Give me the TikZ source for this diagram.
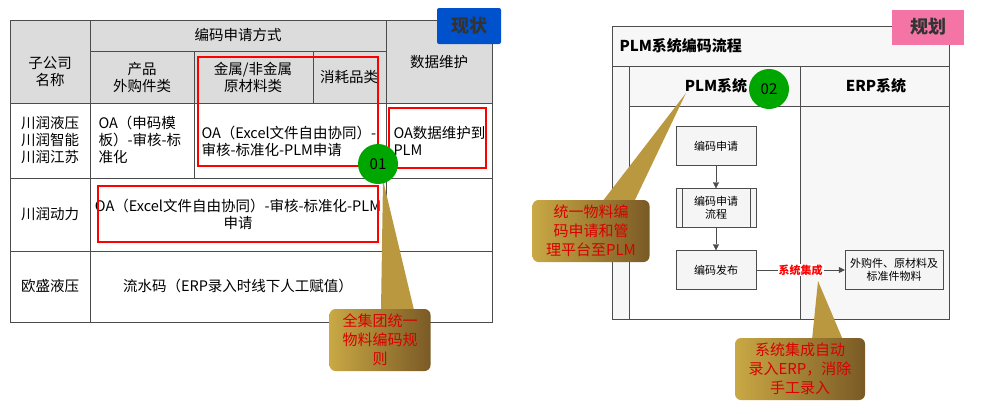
\documentclass[tikz,border=0pt]{standalone}
\usepackage{fontspec}
\newfontfamily\cjk{Noto Sans CJK SC}
\usetikzlibrary{arrows.meta}
\definecolor{hdr}{HTML}{DCDCDC}
\definecolor{goldA}{HTML}{C9A845}
\definecolor{goldB}{HTML}{7A5A25}
\tikzset{
 cell/.style={font=\cjk\fontsize{14.5}{17}\selectfont,align=center},
 redbox/.style={draw=red,line width=2pt},
 callout/.style={rounded corners=6pt,left color=goldA,right color=goldB,draw=none},
 calltext/.style={font=\cjk\fontsize{15}{19}\selectfont,text=red!85!black,align=center},
 badge/.style={circle,fill=green!65!black,minimum size=40pt,inner sep=0pt,font=\cjk\fontsize{15}{15}\selectfont},
 flowbox/.style={draw=black!70,fill=black!4,minimum width=80pt,minimum height=39pt,font=\cjk\fontsize{11}{13}\selectfont,align=center},
 arr/.style={draw=black!70,-{Triangle[length=6pt,width=6pt]}}
}
\begin{document}
\begin{tikzpicture}[x=1pt,y=-1pt]
\useasboundingbox (0,0) rectangle (1000,413);
% table
\fill[hdr] (10,20) rectangle (492,103);
\draw[black!70,line width=1pt] (10,20) rectangle (492,322);
\foreach \y in {103,178,251} \draw[black!70] (10,\y)--(492,\y);
\draw[black!70] (90,51)--(386,51);
\foreach \x in {90,386} \draw[black!70] (\x,20)--(\x,322);
\draw[black!70] (194,51)--(194,178);
\draw[black!70] (313,51)--(313,103);
\node[cell] (h1) at (50,72) {子公司\\名称};
\node[cell] (h2) at (238,35) {编码申请方式};
\node[cell] (h3) at (142,77) {产品\\外购件类};
\node[cell] (h4) at (253,77) {金属/非金属\\原材料类};
\node[cell] (h5) at (349,77) {消耗品类};
\node[cell] (h6) at (439,62) {数据维护};
\node[cell] (r1) at (50,140) {川润液压\\川润智能\\川润江苏};
\node[cell,align=left,anchor=west] (c11) at (95,140) {OA（申码模\\板）-审核-标\\准化};
\node[cell,align=left,anchor=west] (c12) at (198,141) {OA（Excel文件自由协同）-\\审核-标准化-PLM申请};
\node[cell,align=left,anchor=west] (c13) at (390,141) {OA数据维护到\\PLM};
\node[cell] (r2) at (50,214) {川润动力};
\node[cell] (c21) at (238,214) {OA（Excel文件自由协同）-审核-标准化-PLM\\申请};
\node[cell] (r3) at (50,286) {欧盛液压};
\node[cell] (c31) at (238,286) {流水码（ERP录入时线下人工赋值）};
\draw[redbox] (198,57) rectangle (378,166);
\draw[redbox] (389,108) rectangle (486,168);
\draw[redbox] (98,186) rectangle (378,242);
% right flow frame
\fill[black!3] (612,26) rectangle (949,319);
\fill[white] (629,106) rectangle (800,319);
\draw[black!70] (612,26) rectangle (949,319);
\draw[black!70] (612,66)--(949,66);
\draw[black!70] (629,66)--(629,319);
\draw[black!70] (629,106)--(949,106);
\draw[black!70] (800,66)--(800,319);
\node[font=\cjk\fontsize{15}{15}\selectfont\bfseries,anchor=west] (pt) at (616,46) {PLM系统编码流程};
\node[font=\cjk\fontsize{15}{15}\selectfont\bfseries] (l1) at (716,86) {PLM系统};
\node[font=\cjk\fontsize{15}{15}\selectfont\bfseries] (l2) at (876,86) {ERP系统};
\node[flowbox] (f1) at (716,146) {编码申请};
\node[flowbox] (f2) at (716,208) {编码申请\\流程};
\draw[black!70] (682,189)--(682,228) (750,189)--(750,228);
\node[flowbox] (f3) at (716,270) {编码发布};
\node[flowbox,minimum width=98pt] (f4) at (894,270) {外购件、原材料及\\标准件物料};
\draw[arr] (f1)--(f2);
\draw[arr] (f2)--(f3);
\draw[arr] (f3)--node[fill=white,inner sep=1pt,text=red,font=\cjk\fontsize{11}{11}\selectfont\bfseries] (lab) {系统集成} (f4);
% tabs
\node[fill=blue!60!cyan!80!black,minimum width=64pt,minimum height=36pt,rounded corners=2pt,font=\cjk\fontsize{18}{18}\selectfont\bfseries,text=black!80] (t1) at (469,26) {现状};
\node[fill=magenta!40!pink,minimum width=72pt,minimum height=35pt,font=\cjk\fontsize{18}{18}\selectfont\bfseries,text=black!80] (t2) at (928,27) {规划};
% callouts
\fill[goldA!80!goldB] (383,180)--(381,310)--(414,310)--cycle;
\node[callout,minimum width=101pt,minimum height=62pt] (k1) at (380,340) {};
\node[calltext] at (k1) {全集团统一\\物料编码规\\则};
\node[badge] (b1) at (378,164) {01};
\fill[goldA!80!goldB] (686,93)--(602,202)--(634,202)--cycle;
\node[callout,minimum width=117pt,minimum height=62pt] (k2) at (591,231) {};
\node[calltext] at (k2) {统一物料编\\码申请和管\\理平台至PLM};
\node[badge] (b2) at (769,89) {02};
\fill[goldA!80!goldB] (818,281)--(812,340)--(843,340)--cycle;
\node[callout,minimum width=130pt,minimum height=62pt] (k3) at (800,369) {};
\node[calltext] at (k3) {系统集成自动\\录入ERP，消除\\手工录入};
\end{tikzpicture}
\end{document}
